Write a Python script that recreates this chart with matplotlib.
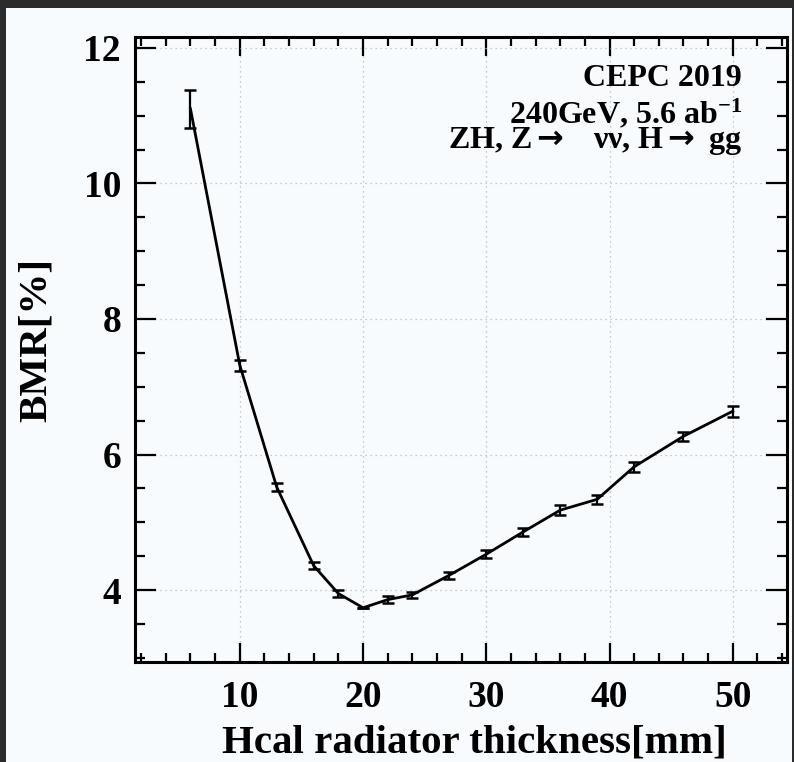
import matplotlib
matplotlib.use('Agg')
import matplotlib.pyplot as plt
from matplotlib.patches import Rectangle
from matplotlib.ticker import MultipleLocator

# Hcal radiator thickness [mm] and the BMR [%]
thickness = [6, 10, 13, 16, 18, 20, 22, 24, 27, 30, 33, 36, 39, 42, 46, 50]
bmr = [11.10, 7.32, 5.52, 4.36, 3.95, 3.74, 3.86, 3.93, 4.22, 4.53, 4.86,
       5.18, 5.34, 5.82, 6.27, 6.64]
bmrErr = [0.28, 0.08, 0.06, 0.05, 0.05, 0.0, 0.05, 0.05, 0.05, 0.06, 0.06,
          0.07, 0.07, 0.07, 0.07, 0.08]

xTicks = [10, 20, 30, 40, 50]
yTicks = [4, 6, 8, 10, 12]
labelLines = ['CEPC 2019', '240GeV, 5.6 ab$^{-1}$',
              'ZH, Z$\\mathsf{\\rightarrow}$   \u03bd\u03bd, H$\\mathsf{\\rightarrow}$ gg']

serif = ['Liberation Serif', 'DejaVu Sans']
plt.rcParams['font.family'] = serif
plt.rcParams['font.weight'] = 'bold'
plt.rcParams['mathtext.fontset'] = 'custom'
plt.rcParams['mathtext.rm'] = 'Liberation Serif:bold'
plt.rcParams['mathtext.it'] = 'Liberation Serif:bold'
plt.rcParams['mathtext.bf'] = 'Liberation Serif:bold'
plt.rcParams['mathtext.sf'] = 'DejaVu Sans:bold'

fig = plt.figure(figsize=(7.94, 7.62), dpi=100)
fig.patch.set_facecolor('#2b2b2b')
# white canvas inside the dark screenshot border
fig.patches.append(Rectangle((6 / 794, 0), 786 / 794, 754 / 762, transform=fig.transFigure,
                             facecolor='#f8fbfd', edgecolor='none', zorder=-5))

ax = fig.add_axes([135 / 794, 100 / 762, 652 / 794, 625 / 762])
ax.set_zorder(2)
ax.set_facecolor('#f8fbfd')

ax.errorbar(thickness, bmr, yerr=bmrErr, color='black', linewidth=2.0,
            elinewidth=1.6, capsize=4, capthick=1.8, zorder=3)

ax.set_xlim(1.5, 54.4)
ax.set_ylim(2.94, 12.16)
ax.set_xticks(xTicks)
ax.set_yticks(yTicks)
ax.xaxis.set_minor_locator(MultipleLocator(2))
ax.yaxis.set_minor_locator(MultipleLocator(0.5))

ax.grid(True, which='major', linestyle=(0, (1, 3)), color='#b8b8b8', linewidth=0.9)

for side in ax.spines.values():
    side.set_linewidth(2.2)

ax.tick_params(axis='both', which='both', direction='in', top=True, right=True,
               width=1.6, labelsize=27)
ax.tick_params(axis='x', which='major', length=13.5, pad=13)
ax.tick_params(axis='x', which='minor', length=6.5)
ax.tick_params(axis='y', which='major', length=15, pad=10)
ax.tick_params(axis='y', which='minor', length=7.5)
for lab in ax.get_xticklabels() + ax.get_yticklabels():
    lab.set_fontweight('bold')

fig.text(474 / 794, 9 / 762, 'Hcal radiator thickness[mm]', fontsize=29.5,
         fontweight='bold', ha='center', va='baseline', zorder=3)
fig.text(36 / 794, 1 - 340 / 762, 'BMR[%]', fontsize=29.5, fontweight='bold',
         rotation=90, ha='center', va='center', zorder=3)

# info block at upper right
ax.text(0.93, 0.922, labelLines[0], transform=ax.transAxes, fontsize=23,
        fontweight='bold', ha='right', va='baseline')
ax.text(0.931, 0.862, labelLines[1], transform=ax.transAxes, fontsize=23,
        fontweight='bold', ha='right', va='baseline')
ax.text(0.93, 0.823, labelLines[2], transform=ax.transAxes, fontsize=23,
        fontweight='bold', ha='right', va='baseline', family=serif)

fig.savefig('out.png', dpi=100, facecolor=fig.get_facecolor())
